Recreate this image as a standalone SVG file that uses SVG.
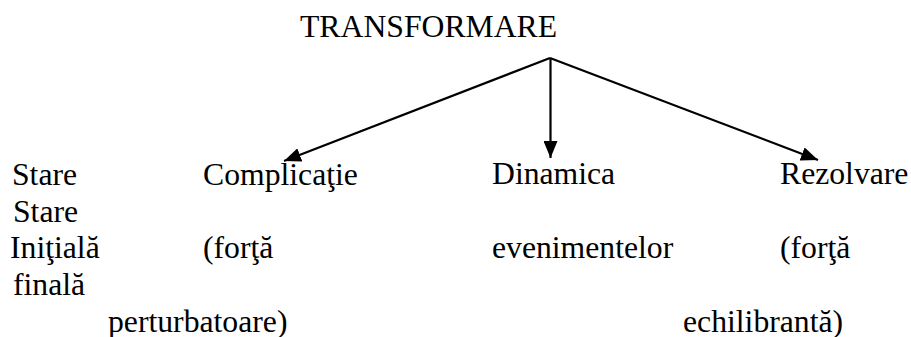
<svg xmlns="http://www.w3.org/2000/svg" width="911" height="337" viewBox="0 0 911 337">
<style>
text{font-family:"Liberation Serif","Times New Roman",serif;font-size:31.7px;fill:#000}
.c{stroke:#000;stroke-width:2.2;fill:none}
</style>
<defs>
<marker id="ah" markerUnits="userSpaceOnUse" markerWidth="18" markerHeight="14" refX="17" refY="7" orient="auto">
<path d="M0,0 L17,7 L0,14 Z" fill="#000"/>
</marker>
</defs>
<rect width="911" height="337" fill="#fff"/>
<g id="transformare"><text x="300" y="37">TRANSFORMARE</text></g>
<g id="connectors">
<line class="c" x1="550" y1="58" x2="284" y2="161" marker-end="url(#ah)"/>
<line class="c" x1="550.5" y1="58" x2="550.5" y2="158" marker-end="url(#ah)"/>
<line class="c" x1="550" y1="58" x2="818" y2="160" marker-end="url(#ah)"/>
</g>
<g id="stare-initiala">
<text x="12" y="185">Stare</text>
<text x="10" y="258">Iniţială</text>
</g>
<g id="stare-finala">
<text x="13" y="221.5">Stare</text>
<text x="13" y="295">finală</text>
</g>
<g id="complicatie">
<text x="203" y="185">Complicaţie</text>
<text x="203" y="258">(forţă</text>
<text x="108" y="331.5">perturbatoare)</text>
</g>
<g id="dinamica">
<text x="492" y="184">Dinamica</text>
<text x="492" y="258">evenimentelor</text>
</g>
<g id="rezolvare">
<text x="780" y="184">Rezolvare</text>
<text x="780" y="258">(forţă</text>
<text x="683" y="331.5">echilibrantă)</text>
</g>
</svg>
